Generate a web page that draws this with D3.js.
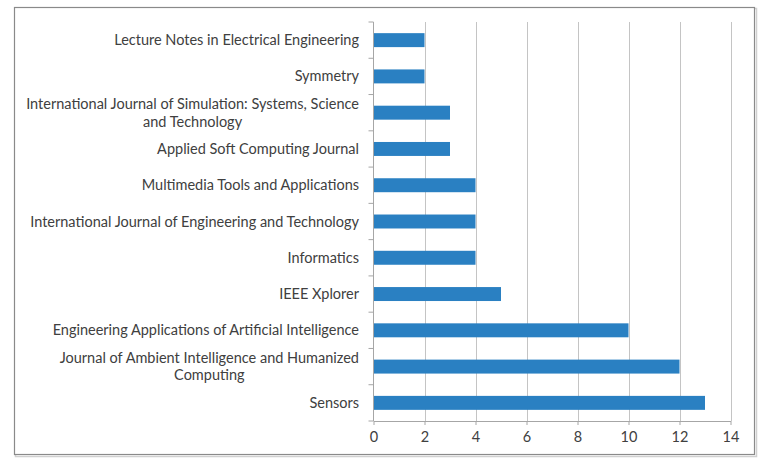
<!DOCTYPE html>
<html><head><meta charset="utf-8">
<script src="https://cdn.jsdelivr.net/npm/d3@7"></script>
<style>
html,body{margin:0;padding:0;background:#fff;}
svg{display:block;}
text{font-family:Lato,"Open Sans",sans-serif;fill:#404040;}
</style></head>
<body><svg id="c" width="769" height="463"></svg>
<script>
const categories = [
  ["Lecture Notes in Electrical Engineering"],
  ["Symmetry"],
  ["International Journal of Simulation: Systems, Science", "and Technology"],
  ["Applied Soft Computing Journal"],
  ["Multimedia Tools and Applications"],
  ["International Journal of Engineering and Technology"],
  ["Informatics"],
  ["IEEE Xplorer"],
  ["Engineering Applications of Artificial Intelligence"],
  ["Journal of Ambient Intelligence and Humanized", "Computing"],
  ["Sensors"]
];
const values = [2, 2, 3, 3, 4, 4, 4, 5, 10, 12, 13];
const xTicks = [0, 2, 4, 6, 8, 10, 12, 14];

(function () {
const svg = d3.select("#c");
const fs = "14.5px";
// outer border with shadow
svg.append("rect").attr("x", 15.5).attr("y", 8.5).attr("width", 741).attr("height", 448)
  .attr("fill", "none").attr("stroke", "#d0d0d0").attr("stroke-width", 1.5);
svg.append("rect").attr("x", 14.5).attr("y", 7.5).attr("width", 740).attr("height", 447)
  .attr("fill", "#fff").attr("stroke", "#8a8a8a").attr("stroke-width", 1.2);

const pLeft = 373.5, pRight = 730.5, pTop = 22, pBottom = 421;
const x = d3.scaleLinear().domain([0, 14]).range([pLeft, pRight]);
const keys = categories.map((c, i) => i);
const y = d3.scaleBand().domain(keys).range([pTop, pBottom]).paddingInner(0.615).paddingOuter(0.3075);

// gridlines
svg.append("g").selectAll("line").data(xTicks.slice(1)).join("line")
  .attr("x1", d => Math.round(x(d)) + 0.5).attr("x2", d => Math.round(x(d)) + 0.5)
  .attr("y1", pTop).attr("y2", pBottom)
  .attr("stroke", "#c4c4c4").attr("stroke-width", 1);

// bars
svg.append("g").selectAll("rect").data(values).join("rect")
  .attr("x", x(0)).attr("y", (d, i) => y(i))
  .attr("width", d => x(d) - x(0)).attr("height", y.bandwidth())
  .attr("fill", "#2a80c2");

// x axis
const xAxis = d3.axisBottom(x).tickValues(xTicks).tickSize(4).tickSizeOuter(0).tickPadding(7);
const gx = svg.append("g").attr("transform", `translate(0,${pBottom})`).call(xAxis);
gx.select(".domain").attr("stroke", "#a6a6a6");
gx.selectAll(".tick line").attr("stroke", "#a6a6a6");
gx.selectAll(".tick text").style("font-family", "Lato,sans-serif").style("font-size", fs).attr("fill", "#404040");

// y axis line and ticks at band boundaries
const step = (pBottom - pTop) / categories.length;
svg.append("line").attr("x1", pLeft).attr("x2", pLeft).attr("y1", pTop).attr("y2", pBottom)
  .attr("stroke", "#a6a6a6");
svg.append("g").selectAll("line").data(d3.range(categories.length + 1)).join("line")
  .attr("x1", pLeft - 5).attr("x2", pLeft)
  .attr("y1", d => pTop + d * step).attr("y2", d => pTop + d * step)
  .attr("stroke", "#a6a6a6");

// category labels
const labelRight = 359;
const lg = svg.append("g");
categories.forEach((lines, i) => {
  const cy = y(i) + y.bandwidth() / 2;
  if (lines.length === 1) {
    lg.append("text").attr("x", labelRight).attr("y", cy).attr("dy", "0.35em")
      .attr("text-anchor", "end").style("font-size", fs).text(lines[0]);
  } else {
    const t0 = lg.append("text").attr("x", labelRight).attr("y", cy - 8.8).attr("dy", "0.35em")
      .attr("text-anchor", "end").style("font-size", fs).text(lines[0]);
    const w = t0.node().getComputedTextLength();
    lg.append("text").attr("x", labelRight - w / 2).attr("y", cy + 8.8).attr("dy", "0.35em")
      .attr("text-anchor", "middle").style("font-size", fs).text(lines[1]);
  }
});
})();
</script></body></html>
